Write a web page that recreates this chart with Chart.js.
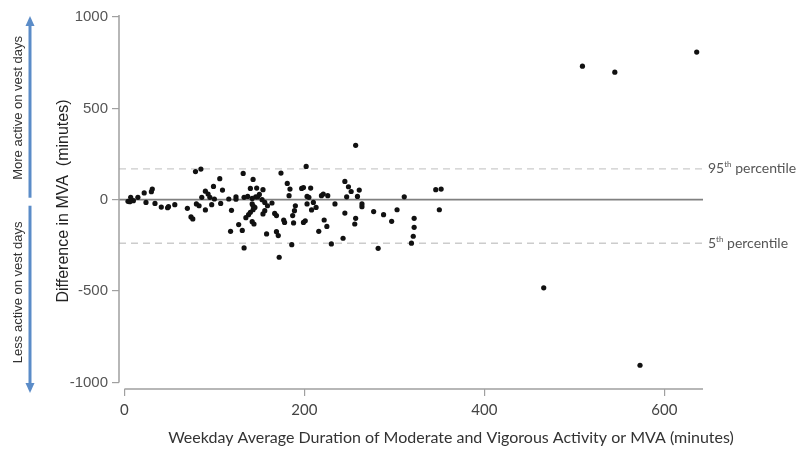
<!DOCTYPE html>
<html lang="en">
<head>
<meta charset="UTF-8">
<title>Difference in MVA</title>
<script src="https://cdn.jsdelivr.net/npm/chart.js"></script>
<style>
  html, body { margin: 0; padding: 0; background: #fff; }
</style>
</head>
<body>
<canvas id="chart" width="800" height="462"></canvas>
<script>
// weekday MVA (minutes) and vest-day difference (minutes)
const mvaWeekday = [
  4, 7, 6, 10, 15, 22, 31, 30, 24, 34, 41, 48, 49, 56, 70, 74, 76, 79, 85, 80,
  83, 86, 90, 93, 95, 99, 100, 90, 97, 106, 107, 109, 116, 119, 124, 124, 118, 127, 131, 132,
  133, 137, 133, 143, 140, 147, 146, 143, 143, 145, 140, 138, 135, 142, 144,
  154, 181, 184, 197, 199, 207, 142, 150, 148, 153, 156, 164, 183, 203, 205, 210, 142,
  159, 156, 154, 167, 169, 177, 178, 190, 189, 187, 188, 203, 208, 199, 201,
  158, 169, 171, 186, 172, 216, 174, 202,
  257, 245, 249, 252, 261, 259, 247, 219, 221, 226, 213, 234, 264, 264, 277, 222, 225,
  245, 257, 256, 243, 230, 282,
  346, 352, 311, 288, 297, 303, 350, 322, 322, 321, 319,
  509, 545, 636, 466, 573
];
const mvaDiff = [
  -9, 13, -11, -5, 13, 37, 58, 44, -15, -20, -40, -44, -38, -27, -47, -94, -105, 154, 168, -23,
  -33, 13, 47, 31, 13, 73, 4, -56, -27, 115, -20, 53, 4, -58, 16, 3, -173, -136, -168, 144,
  13, 18, -264, 111, 62, 64, 16, -33, -55, -42, -69, -82, -98, -120, -133,
  55, 89, 58, 62, 67, 64, 7, 29, 15, 0, -15, -18, 22, 18, 13, -15, -23,
  -33, -60, -78, -75, -87, -111, -124, -33, -60, -87, -127, -23, -56, -124, -115,
  -187, -175, -196, -246, -315, -173, 146, 182,
  298, 100, 71, 45, 53, 18, 16, 22, 31, 22, -42, -23, -23, -38, -65, -111, -146,
  -73, -102, -133, -211, -242, -266,
  55, 58, 16, -82, -118, -55, -55, -102, -151, -200, -238,
  731, 698, 808, -482, -906
];
const xTicks = [0, 200, 400, 600];
const yTicks = [-1000, -500, 0, 500, 1000];
const xRange = [-6, 643];
const yRange = [-1036, 1022];
const pctValues = [169, -238];
const pctNames = ['95', '5'];

const points = mvaWeekday.map((x, i) => ({ x: x, y: mvaDiff[i] }));
const hLine = v => [{ x: xRange[0], y: v }, { x: xRange[1], y: v }];

function drawArrow(ctx, x, y0, y1) {
  const dir = y1 < y0 ? -1 : 1;
  ctx.beginPath();
  ctx.moveTo(x, y0);
  ctx.lineTo(x, y1 - dir * 8);
  ctx.stroke();
  ctx.beginPath();
  ctx.moveTo(x, y1);
  ctx.lineTo(x - 4.5, y1 - dir * 10);
  ctx.lineTo(x + 4.5, y1 - dir * 10);
  ctx.closePath();
  ctx.fill();
}

const decor = {
  id: 'decor',
  afterDraw(chart) {
    const ctx = chart.ctx;
    const area = chart.chartArea;
    const xs = chart.scales.x, ys = chart.scales.y;
    const zero = ys.getPixelForValue(0);
    ctx.save();

    // axis lines, Stata style (not meeting at the corner)
    ctx.strokeStyle = '#a0a0a0';
    ctx.lineWidth = 1.5;
    ctx.beginPath();
    ctx.moveTo(area.left, ys.getPixelForValue(yTicks[yTicks.length - 1]) - 2);
    ctx.lineTo(area.left, ys.getPixelForValue(yTicks[0]));
    ctx.moveTo(xs.getPixelForValue(xTicks[0]), area.bottom);
    ctx.lineTo(area.right, area.bottom);
    ctx.stroke();

    // percentile labels
    ctx.fillStyle = '#555';
    ctx.textBaseline = 'middle';
    ctx.textAlign = 'left';
    pctValues.forEach((v, i) => {
      const y = ys.getPixelForValue(v);
      let x = area.right + 5;
      ctx.font = '14px Lato';
      ctx.fillText(pctNames[i], x, y);
      x += ctx.measureText(pctNames[i]).width;
      ctx.font = '8px Lato';
      ctx.fillText('th', x, y - 4);
      x += ctx.measureText('th').width;
      ctx.font = '14px Lato';
      ctx.fillText(' percentile', x, y);
    });

    // x title
    ctx.fillStyle = '#333';
    ctx.textAlign = 'center';
    ctx.font = '16px Lato';
    ctx.fillText('Weekday Average Duration of Moderate and Vigorous Activity or MVA (minutes)',
      (area.left + area.right) / 2 + 40, area.bottom + 49);

    // side arrows
    ctx.strokeStyle = '#5b8cc8';
    ctx.fillStyle = '#5b8cc8';
    ctx.lineWidth = 3;
    const top = ys.getPixelForValue(yTicks[yTicks.length - 1]) - 1;
    const bot = area.bottom + 4;
    drawArrow(ctx, 30, zero - 2, top);
    drawArrow(ctx, 30, zero + 6, bot);

    ctx.fillStyle = '#333';
    ctx.font = '13px "Liberation Sans Narrow", "Liberation Sans"';
    ctx.textAlign = 'center';
    ctx.save();
    ctx.translate(18, (top + zero) / 2);
    ctx.rotate(-Math.PI / 2);
    ctx.fillText('More active on vest days', 0, 0);
    ctx.restore();
    ctx.save();
    ctx.translate(18, (zero + bot) / 2 - 4);
    ctx.rotate(-Math.PI / 2);
    ctx.fillText('Less active on vest days', 0, 0);
    ctx.restore();

    ctx.restore();
  }
};

new Chart(document.getElementById('chart'), {
  type: 'scatter',
  data: {
    datasets: [
      {
        data: points,
        backgroundColor: '#111',
        borderWidth: 0,
        pointRadius: 2.6,
        order: 0
      },
      {
        type: 'line',
        data: hLine(0),
        borderColor: '#808080',
        borderWidth: 1.7,
        pointRadius: 0,
        order: 1
      },
      {
        type: 'line',
        data: hLine(pctValues[0]),
        borderColor: '#cccccc',
        borderWidth: 1.4,
        borderDash: [7, 5],
        pointRadius: 0,
        order: 2
      },
      {
        type: 'line',
        data: hLine(pctValues[1]),
        borderColor: '#cccccc',
        borderWidth: 1.4,
        borderDash: [7, 5],
        pointRadius: 0,
        order: 2
      }
    ]
  },
  options: {
    responsive: false,
    animation: false,
    layout: { padding: { left: 48, right: 97, top: 12, bottom: 0 } },
    plugins: { legend: { display: false }, tooltip: { enabled: false } },
    scales: {
      x: {
        type: 'linear',
        min: xRange[0],
        max: xRange[1],
        afterBuildTicks: s => { s.ticks = xTicks.map(v => ({ value: v })); },
        afterFit: s => { s.height = 73; },
        border: { display: false },
        grid: { drawOnChartArea: false, tickLength: 7, color: '#a0a0a0', lineWidth: 1.2 },
        ticks: {
          padding: 5,
          color: '#444',
          font: { family: 'Lato', size: 15 },
          callback: v => String(v)
        }
      },
      y: {
        min: yRange[0],
        max: yRange[1],
        afterBuildTicks: s => { s.ticks = yTicks.map(v => ({ value: v })); },
        afterFit: s => { s.width = 71; },
        border: { display: false },
        grid: { drawOnChartArea: false, tickLength: 7, color: '#a0a0a0', lineWidth: 1.2 },
        ticks: {
          padding: 4,
          color: '#555',
          font: { family: 'Liberation Sans', size: 15 },
          callback: v => String(v)
        },
        title: {
          display: true,
          text: 'Difference in MVA  (minutes)',
          color: '#222',
          font: { family: 'Liberation Sans', size: 16 },
          padding: { top: 6, bottom: 0 }
        }
      }
    }
  },
  plugins: [decor]
});
</script>
</body>
</html>
